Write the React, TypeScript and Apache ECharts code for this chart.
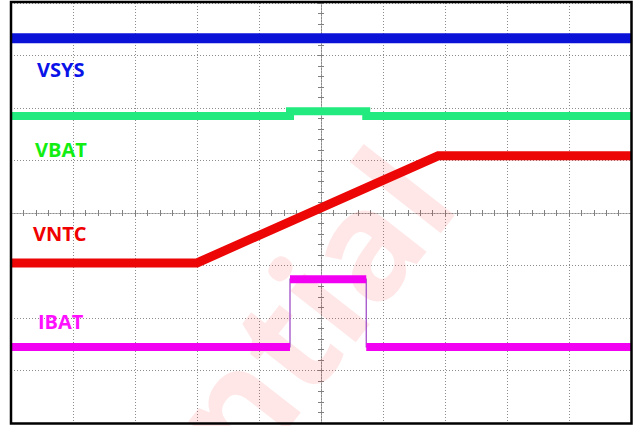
import React, { useEffect, useRef } from 'react';
import * as echarts from 'echarts';

// Trace names (as labelled on the scope screen)
const traceNames = ['VSYS', 'VBAT', 'VNTC', 'IBAT'];
const traceColors = ['#0a12d8', '#22ea7e', '#ec0606', '#f200f2'];
const labelColors = ['#0a14e8', '#12ee12', '#f00000', '#ff10ff'];

// Values in screen divisions (x: -5..5, y: -4..4)
const vsysX = [-5, 5];
const vsysY = [3.33, 3.33];
const vbatX = [-5, -0.5, -0.5, 0.73, 0.73, 5];
const vbatY = [1.85, 1.85, 1.94, 1.94, 1.85, 1.85];
const vntcX = [-5, -2.0, 1.89, 5];
const vntcY = [-0.95, -0.95, 1.09, 1.09];
const ibatX = [-5, -0.5, -0.5, 0.73, 0.73, 5];
const ibatY = [-2.55, -2.55, -1.26, -1.26, -2.55, -2.55];

// Visible part of the diagonal watermark
const watermark = 'ntial';

function pts(xs: number[], ys: number[]) {
  return xs.map((x, i) => [x, ys[i]]);
}

export default function App() {
  const ref = useRef<HTMLDivElement>(null);
  useEffect(() => {
    if (!ref.current) return;
    const chart = echarts.init(ref.current, null, { renderer: 'svg' });
    const gridStyle = { color: '#8c8c8c', type: [1, 2] as any, width: 1 };
    const tickStyle = { color: '#808080', width: 1 };

    const series: any[] = [];
    const line = (data: number[][], color: string, width: number, z = 2) => ({
      type: 'line',
      data,
      xAxisIndex: 0,
      yAxisIndex: 0,
      showSymbol: false,
      symbol: 'none',
      silent: true,
      z,
      lineStyle: { color, width, join: 'miter', cap: 'butt' },
    });
    series.push(line(pts(vsysX, vsysY), traceColors[0], 10));
    series.push(line(pts(vbatX, vbatY), traceColors[1], 8));
    series.push(line(pts(vntcX, vntcY), traceColors[2], 9));
    // IBAT: thin edges + thick horizontal segments
    series.push(line(pts(ibatX, ibatY), '#a050c8', 1.3));
    for (let i = 0; i < ibatX.length - 1; i++) {
      if (ibatX[i] !== ibatX[i + 1]) {
        series.push(
          line(
            [
              [ibatX[i], ibatY[i]],
              [ibatX[i + 1], ibatY[i + 1]],
            ],
            traceColors[3],
            8,
            3
          )
        );
      }
    }

    const centerX = (inside: boolean) => ({
      type: 'value',
      min: -5,
      max: 5,
      interval: 1,
      position: 'bottom',
      axisLine: { show: true, onZero: true, onZeroAxisIndex: 0, lineStyle: gridStyle },
      axisTick: { show: true, inside, length: 3, lineStyle: tickStyle },
      minorTick: { show: true, splitNumber: 5, length: 3, lineStyle: tickStyle },
      axisLabel: { show: false },
      splitLine: { show: false },
    });
    const centerY = (inside: boolean) => ({
      type: 'value',
      min: -4,
      max: 4,
      interval: 1,
      position: 'left',
      axisLine: { show: true, onZero: true, onZeroAxisIndex: 0, lineStyle: gridStyle },
      axisTick: { show: true, inside, length: 3, lineStyle: tickStyle },
      minorTick: { show: true, splitNumber: 5, length: 3, lineStyle: tickStyle },
      axisLabel: { show: false },
      splitLine: { show: false },
    });

    const labelY = [69.5, 149, 233, 321.5];
    const labelX = [37, 35, 33, 38];

    chart.setOption({
      animation: false,
      backgroundColor: '#ffffff',
      grid: { left: 11, top: 3, width: 620, height: 420, show: false },
      xAxis: [
        {
          type: 'value',
          min: -5,
          max: 5,
          interval: 1,
          axisLine: { show: false },
          axisTick: { show: false },
          axisLabel: { show: false },
          splitLine: { show: true, lineStyle: gridStyle },
        },
        centerX(false),
        centerX(true),
      ],
      yAxis: [
        {
          type: 'value',
          min: -4,
          max: 4,
          interval: 1,
          axisLine: { show: false },
          axisTick: { show: false },
          axisLabel: { show: false },
          splitLine: { show: true, lineStyle: gridStyle },
        },
        centerY(false),
        centerY(true),
      ],
      series,
      graphic: [
        {
          type: 'text',
          x: 416,
          y: 170,
          rotation: (52 * Math.PI) / 180,
          z: 1,
          silent: true,
          style: {
            text: watermark,
            font: 'bold 152px "Open Sans"',
            fill: 'rgba(255,40,40,0.11)',
            textAlign: 'right',
            textVerticalAlign: 'middle',
          },
        },
        ...traceNames.map((name, i) => ({
          type: 'text',
          x: labelX[i],
          y: labelY[i],
          z: 100,
          style: {
            text: name,
            font: 'bold 20px "Open Sans"',
            fill: labelColors[i],
            textAlign: 'left',
            textVerticalAlign: 'middle',
          },
        })),
        {
          type: 'rect',
          z: 100,
          shape: { x: 11, y: 2, width: 620.5, height: 421.5 },
          style: { fill: 'none', stroke: '#000', lineWidth: 2.5 },
        },
      ],
    });
    return () => chart.dispose();
  }, []);
  return (
    <div
      ref={ref}
      style={{ position: 'fixed', left: 0, top: 0, width: 635, height: 426, background: '#fff' }}
    />
  );
}
